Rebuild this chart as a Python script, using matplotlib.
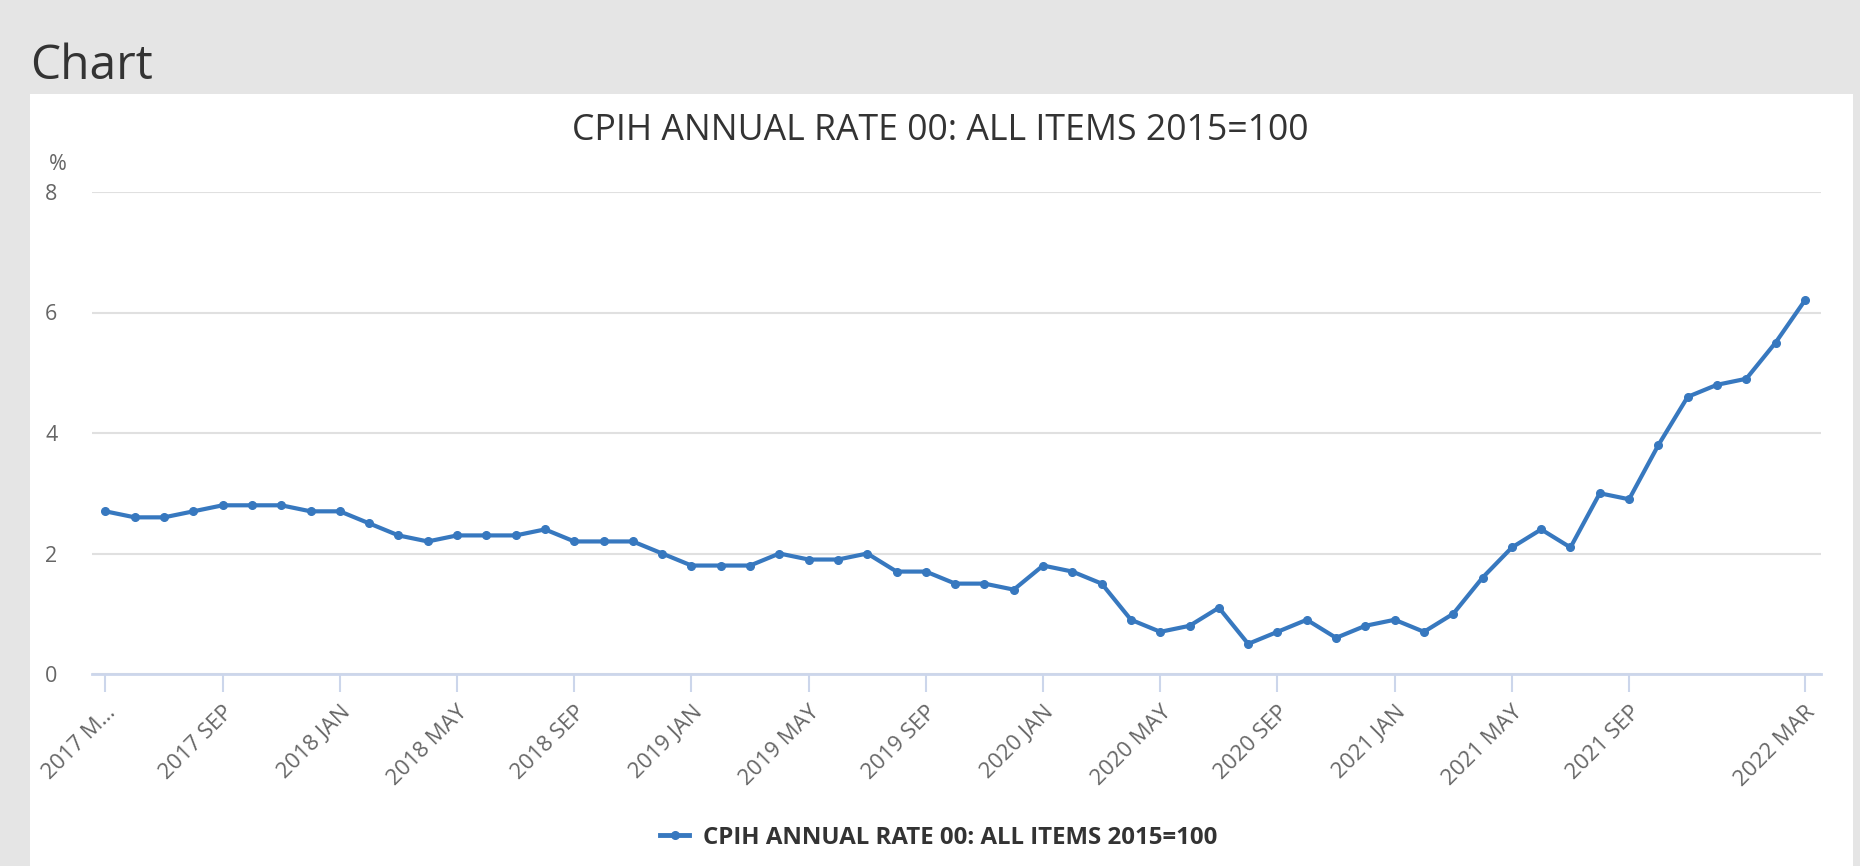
import matplotlib
matplotlib.use("Agg")
import matplotlib.pyplot as plt
from matplotlib.lines import Line2D

plt.rcParams['font.family'] = ['Open Sans', 'DejaVu Sans']

# --- DONNÉES ---
months = ["2017 MAY", "2017 JUN", "2017 JUL", "2017 AUG", "2017 SEP", "2017 OCT", "2017 NOV", "2017 DEC",
          "2018 JAN", "2018 FEB", "2018 MAR", "2018 APR", "2018 MAY", "2018 JUN", "2018 JUL", "2018 AUG",
          "2018 SEP", "2018 OCT", "2018 NOV", "2018 DEC",
          "2019 JAN", "2019 FEB", "2019 MAR", "2019 APR", "2019 MAY", "2019 JUN", "2019 JUL", "2019 AUG",
          "2019 SEP", "2019 OCT", "2019 NOV", "2019 DEC",
          "2020 JAN", "2020 FEB", "2020 MAR", "2020 APR", "2020 MAY", "2020 JUN", "2020 JUL", "2020 AUG",
          "2020 SEP", "2020 OCT", "2020 NOV", "2020 DEC",
          "2021 JAN", "2021 FEB", "2021 MAR", "2021 APR", "2021 MAY", "2021 JUN", "2021 JUL", "2021 AUG",
          "2021 SEP", "2021 OCT", "2021 NOV", "2021 DEC",
          "2022 JAN", "2022 FEB", "2022 MAR"]
cpih = [2.7, 2.6, 2.6, 2.7, 2.8, 2.8, 2.8, 2.7,
        2.7, 2.5, 2.3, 2.2, 2.3, 2.3, 2.3, 2.4, 2.2, 2.2, 2.2, 2.0,
        1.8, 1.8, 1.8, 2.0, 1.9, 1.9, 2.0, 1.7, 1.7, 1.5, 1.5, 1.4,
        1.8, 1.7, 1.5, 0.9, 0.7, 0.8, 1.1, 0.5, 0.7, 0.9, 0.6, 0.8,
        0.9, 0.7, 1.0, 1.6, 2.1, 2.4, 2.1, 3.0, 2.9, 3.8, 4.6, 4.8,
        4.9, 5.5, 6.2]
tick_idx = [0, 4, 8, 12, 16, 20, 24, 28, 32, 36, 40, 44, 48, 52, 58]
tick_labels = ["2017 M…"] + [months[i] for i in tick_idx[1:]]
y_ticks = [0, 2, 4, 6, 8]

title = "CPIH ANNUAL RATE 00: ALL ITEMS 2015=100"
line_col = '#3778bf'

# --- FIGURE ---
W, H = 1860, 866
fig = plt.figure(figsize=(W / 100, H / 100), dpi=100)
fig.patch.set_facecolor('#e5e5e5')

# panneau blanc
bg = fig.add_axes([30 / W, 0, (1853 - 30) / W, (H - 94) / H], zorder=0)
bg.set_facecolor('white')
bg.set_xticks([])
bg.set_yticks([])
for s in bg.spines.values():
    s.set_visible(False)

fig.text(30 / W, 1 - 66 / H, "Chart", fontsize=34.5, color='#333333', va='center', ha='left')
fig.text(940 / W, 1 - 131 / H, title, fontsize=25.7, color='#333333', va='center', ha='center')

ax = fig.add_axes([92 / W, 1 - 674 / H, (1821 - 92) / W, (674 - 192) / H], zorder=2)
ax.set_facecolor('none')
x = list(range(len(cpih)))
ax.plot(x, cpih, color=line_col, lw=3, marker='o', ms=5.5, clip_on=False, zorder=3)

ax.set_xlim(-0.46, 58.55)
ax.set_ylim(0, 8)
ax.set_yticks(y_ticks)
ax.set_yticklabels([str(v) for v in y_ticks])
ax.set_xticks(tick_idx)
ax.set_xticklabels(tick_labels, rotation=45, ha='right', va='top', rotation_mode='anchor')

ax.grid(axis='y', color='#e0e0e0', lw=1.5)
ax.set_axisbelow(True)
for s in ['top', 'right', 'left']:
    ax.spines[s].set_visible(False)
ax.spines['bottom'].set_color('#ccd6eb')
ax.spines['bottom'].set_linewidth(2)

ax.tick_params(axis='y', length=0, pad=25, labelsize=15.5, labelcolor='#666666')
ax.tick_params(axis='x', length=13, width=1.5, color='#ccd6eb', pad=7,
               labelsize=16, labelcolor='#666666')

fig.text(58 / W, 1 - 165 / H, "%", fontsize=15.5, color='#666666', ha='center', va='center')

# --- LÉGENDE ---
handle = Line2D([], [], color=line_col, lw=3.5, marker='o', ms=5.5)
fig.legend([handle], [title], loc='center', bbox_to_anchor=(939 / W, 1 - 837.5 / H),
           frameon=False, handlelength=1.2, handletextpad=0.6,
           prop={'size': 17.3, 'weight': 'bold'}, labelcolor='#333333')

fig.savefig("out.png", dpi=100, facecolor=fig.get_facecolor())
